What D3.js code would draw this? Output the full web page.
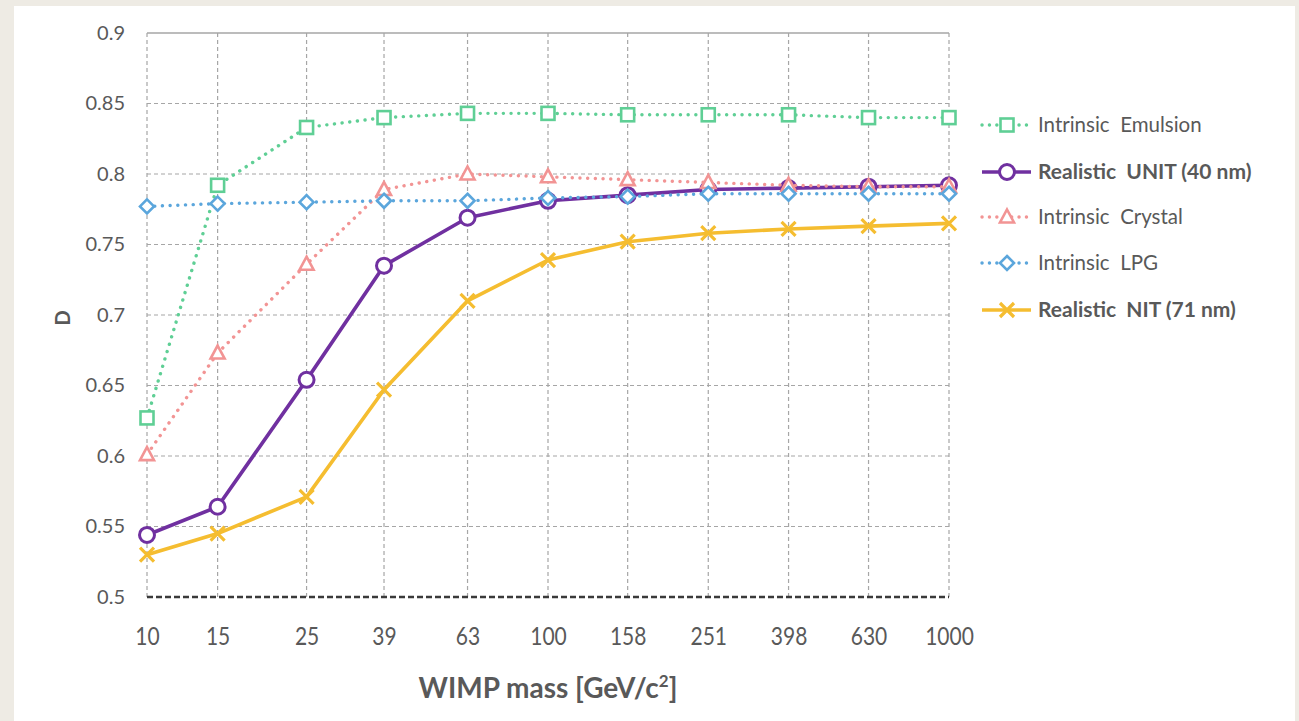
<!DOCTYPE html>
<html><head><meta charset="utf-8">
<script src="https://cdn.jsdelivr.net/npm/d3@7"></script>
<style>
html,body{margin:0;padding:0;background:#eeebe4;}
svg{display:block;}
text{font-family:Lato,"Open Sans",sans-serif;fill:#595959;}
</style></head>
<body>
<svg id="chart" width="1299" height="721"></svg>
<script>
// ---- data ----
const masses = [10, 15, 25, 39, 63, 100, 158, 251, 398, 630, 1000];
const xTickLabels = ["10","15","25","39","63","100","158","251","398","630","1000"];
const yTicks = [0.5, 0.55, 0.6, 0.65, 0.7, 0.75, 0.8, 0.85, 0.9];
const yTickLabels = ["0.5","0.55","0.6","0.65","0.7","0.75","0.8","0.85","0.9"];
const intrinsicEmulsion = [0.627, 0.792, 0.833, 0.840, 0.843, 0.843, 0.842, 0.842, 0.842, 0.840, 0.840];
const realisticUNIT     = [0.544, 0.564, 0.654, 0.735, 0.769, 0.781, 0.785, 0.789, 0.790, 0.791, 0.792];
const intrinsicCrystal  = [0.601, 0.673, 0.736, 0.789, 0.800, 0.798, 0.796, 0.794, 0.792, 0.791, 0.791];
const intrinsicLPG      = [0.777, 0.779, 0.780, 0.781, 0.781, 0.783, 0.784, 0.786, 0.786, 0.786, 0.786];
const realisticNIT      = [0.530, 0.545, 0.571, 0.647, 0.710, 0.739, 0.752, 0.758, 0.761, 0.763, 0.765];
const seriesNames = ["Intrinsic  Emulsion", "Realistic  UNIT (40 nm)", "Intrinsic  Crystal", "Intrinsic  LPG", "Realistic  NIT (71 nm)"];
const xTitle = "WIMP mass [GeV/c";
const yTitle = "D";

// ---- styles ----
const series = [
  {name: seriesNames[0], values: intrinsicEmulsion, color: "#5fcf95", dotted: true,  marker: "square",   bold: false},
  {name: seriesNames[1], values: realisticUNIT,     color: "#7030a0", dotted: false, marker: "circle",   bold: true},
  {name: seriesNames[2], values: intrinsicCrystal,  color: "#f29494", dotted: true,  marker: "triangle", bold: false},
  {name: seriesNames[3], values: intrinsicLPG,      color: "#5ba6dc", dotted: true,  marker: "diamond",  bold: false},
  {name: seriesNames[4], values: realisticNIT,      color: "#f5bd30", dotted: false, marker: "x",        bold: true}
];

const svg = d3.select("#chart");
svg.append("rect").attr("x", 14).attr("y", 6).attr("width", 1281).attr("height", 715).attr("fill", "#ffffff");

const x = d3.scaleLog().domain([10, 1000]).range([147, 949]);
const y = d3.scaleLinear().domain([0.5, 0.9]).range([597, 33]);

// grid
const grid = svg.append("g");
grid.selectAll("line.h").data(yTicks.filter(v => v > 0.5 && v < 0.9)).join("line")
  .attr("x1", x(10)).attr("x2", x(1000)).attr("y1", d => y(d)).attr("y2", d => y(d))
  .attr("stroke", "#a6a6a6").attr("stroke-width", 1.2).attr("stroke-dasharray", "4,3");
grid.selectAll("line.v").data(masses).join("line")
  .attr("x1", d => x(d)).attr("x2", d => x(d)).attr("y1", y(0.9)).attr("y2", y(0.5))
  .attr("stroke", "#a6a6a6").attr("stroke-width", 1.2).attr("stroke-dasharray", "4,3");
grid.append("line").attr("x1", x(10)).attr("x2", x(1000)).attr("y1", y(0.9)).attr("y2", y(0.9))
  .attr("stroke", "#a6a6a6").attr("stroke-width", 1.5);
grid.append("line").attr("x1", x(10)).attr("x2", x(1000)).attr("y1", y(0.5)).attr("y2", y(0.5))
  .attr("stroke", "#3a3a3a").attr("stroke-width", 2.6).attr("stroke-dasharray", "6,3");

// axes
const yAxis = d3.axisLeft(y).tickValues(yTicks).tickFormat((d, i) => yTickLabels[i]).tickSize(0).tickPadding(22);
const gy = svg.append("g").attr("transform", `translate(${x(10)},0)`).call(yAxis);
gy.select(".domain").remove();
gy.selectAll("text").attr("font-size", 20).style("fill", "#595959").style("font-family", "Lato");

const xAxis = d3.axisBottom(x).tickValues(masses).tickFormat((d, i) => xTickLabels[i]).tickSize(0).tickPadding(0);
const gx = svg.append("g").attr("transform", `translate(0,${y(0.5)})`).call(xAxis);
gx.select(".domain").remove();
gx.selectAll("text").attr("font-size", 21).attr("dy", 0).attr("y", 0)
  .attr("transform", "translate(0,48) scale(1,1.2)")
  .style("fill", "#595959").style("font-family", "Lato");

// titles
const xt = svg.append("text").attr("x", 548).attr("y", 698).attr("text-anchor", "middle")
  .attr("font-size", 28).attr("font-weight", 700);
xt.append("tspan").text(xTitle);
xt.append("tspan").text("2").attr("font-size", 17).attr("dy", -11);
xt.append("tspan").text("]").attr("dy", 11);

svg.append("text").attr("transform", "translate(70,318) rotate(-90)").attr("text-anchor", "middle")
  .attr("font-size", 20).attr("font-weight", 700).text(yTitle);

// markers
function drawMarker(g, type, color, cx, cy) {
  const s = 7;
  if (type === "square") {
    g.append("rect").attr("x", cx - 6.5).attr("y", cy - 6.5).attr("width", 13).attr("height", 13)
      .attr("fill", "#fff").attr("stroke", color).attr("stroke-width", 2.6);
  } else if (type === "circle") {
    g.append("circle").attr("cx", cx).attr("cy", cy).attr("r", 7.5)
      .attr("fill", "#fff").attr("stroke", color).attr("stroke-width", 3);
  } else if (type === "triangle") {
    g.append("path").attr("d", `M${cx},${cy - 7.5}L${cx + 7},${cy + 5.5}L${cx - 7},${cy + 5.5}Z`)
      .attr("fill", "#fff").attr("stroke", color).attr("stroke-width", 2.6).attr("stroke-linejoin", "miter");
  } else if (type === "diamond") {
    g.append("path").attr("d", `M${cx},${cy - 7}L${cx + 7},${cy}L${cx},${cy + 7}L${cx - 7},${cy}Z`)
      .attr("fill", "#fff").attr("stroke", color).attr("stroke-width", 2.6);
  } else if (type === "x") {
    g.append("path").attr("d", `M${cx - s},${cy - s}L${cx + s},${cy + s}M${cx - s},${cy + s}L${cx + s},${cy - s}`)
      .attr("fill", "none").attr("stroke", color).attr("stroke-width", 3.2);
  }
}

const line = d3.line().x(d => x(d[0])).y(d => y(d[1])).curve(d3.curveLinear);

series.forEach(s => {
  const g = svg.append("g");
  const pts = masses.map((m, i) => [m, s.values[i]]);
  const p = g.append("path").datum(pts).attr("d", line).attr("fill", "none").attr("stroke", s.color);
  if (s.dotted) p.attr("stroke-width", 3.4).attr("stroke-dasharray", "0.1,7.6").attr("stroke-linecap", "round");
  else p.attr("stroke-width", 3.6).attr("stroke-linejoin", "round");
  pts.forEach(d => drawMarker(g, s.marker, s.color, x(d[0]), y(d[1])));
});

// legend
const legendY = [125, 172, 217, 263, 310];
const lg = svg.append("g");
series.forEach((s, i) => {
  const cy = legendY[i];
  const l = lg.append("line").attr("x1", 982).attr("x2", 1031).attr("y1", cy).attr("y2", cy).attr("stroke", s.color);
  if (s.dotted) l.attr("stroke-width", 3.4).attr("stroke-dasharray", "0.1,7.3").attr("stroke-linecap", "round");
  else l.attr("stroke-width", 3.6);
  drawMarker(lg, s.marker, s.color, 1007, cy);
  lg.append("text").attr("x", 1038).attr("y", cy + 7).attr("font-size", s.bold ? 21 : 20.5)
    .attr("font-weight", s.bold ? 700 : 400).style("white-space", "pre").text(s.name);
});
</script>
</body></html>
